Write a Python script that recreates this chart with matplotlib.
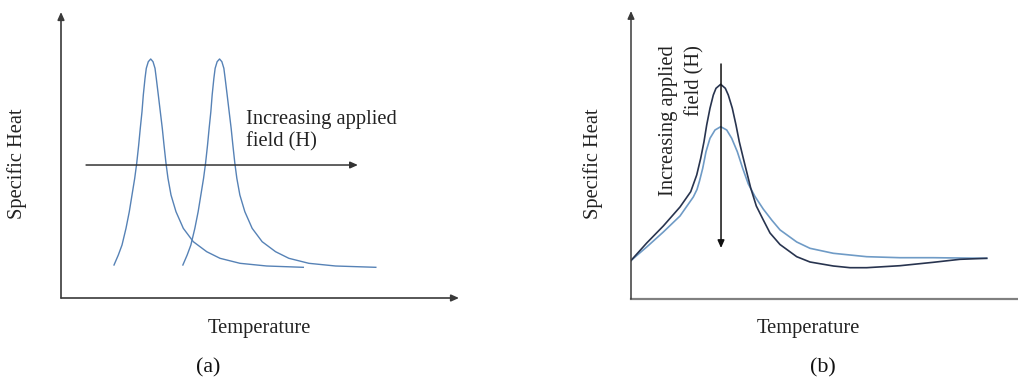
import matplotlib
matplotlib.use("Agg")
import matplotlib.pyplot as plt

plt.rcParams['font.family'] = ['Liberation Serif', 'DejaVu Serif']

# --- panel (a): two sharp peaks, shifted to higher T with field ---
temp_a1 = [13.32, 14.40, 15.33, 16.33, 17.16, 17.84, 18.52, 19.02, 19.52, 19.92,
           20.35, 20.68, 21.11, 21.43, 21.93, 22.54, 23.12, 23.62, 23.94, 24.45,
           24.95, 25.45, 25.88, 26.38, 26.88, 27.64, 28.89, 30.73, 33.24, 36.61,
           39.95, 44.97, 51.68, 60.88]
heat_a1 = [11.54, 15.03, 18.53, 24.36, 30.18, 36.01, 41.85, 47.09, 53.50, 59.34,
           65.14, 70.98, 76.82, 80.31, 82.62, 83.57, 82.62, 80.31, 76.82, 70.98,
           65.14, 59.34, 53.50, 47.09, 41.85, 36.01, 30.18, 24.36, 19.69, 16.19,
           13.88, 12.13, 11.19, 10.73]
temp_a2 = [30.62, 31.70, 32.63, 33.63, 34.46, 35.14, 35.82, 36.32, 36.82, 37.22,
           37.65, 37.98, 38.41, 38.73, 39.23, 39.84, 40.42, 40.92, 41.24, 41.75,
           42.25, 42.75, 43.18, 43.68, 44.18, 44.94, 46.19, 48.03, 50.54, 53.91,
           57.25, 62.27, 68.98, 79.10]
heat_a2 = [11.54, 15.03, 18.53, 24.36, 30.18, 36.01, 41.85, 47.09, 53.50, 59.34,
           65.14, 70.98, 76.82, 80.31, 82.62, 83.57, 82.62, 80.31, 76.82, 70.98,
           65.14, 59.34, 53.50, 47.09, 41.85, 36.01, 30.18, 24.36, 19.69, 16.19,
           13.88, 12.13, 11.19, 10.73]
field_arrow_a_x = [6.3, 74.6]
field_arrow_a_y = [46.5, 46.5]

# --- panel (b): peak suppressed with field ---
temp_b_low = [0.0, 4.06, 8.35, 12.66, 15.43, 16.98, 18.01, 18.86, 19.56, 20.41,
              21.27, 21.96, 23.18, 24.37, 25.14, 26.18, 27.13, 27.98, 29.02, 29.90,
              30.93, 32.38, 34.19, 35.92, 38.50, 42.82, 46.25, 52.27, 56.59, 60.90,
              69.50, 78.11, 85.01, 91.91]
heat_b_low = [13.37, 19.44, 25.35, 31.94, 37.26, 43.06, 48.85, 54.62, 60.42, 66.22,
              70.83, 73.16, 74.55, 73.16, 70.83, 66.22, 60.42, 54.62, 48.85, 44.10,
              38.54, 32.29, 27.43, 22.92, 18.92, 14.69, 12.85, 11.46, 10.87, 10.87,
              11.56, 12.74, 13.78, 14.13]
temp_b_high = [0.0, 4.06, 8.35, 12.66, 16.10, 17.05, 17.70, 18.53, 19.38, 20.41,
               21.71, 23.18, 24.73, 26.02, 27.47, 28.86, 30.31, 32.04, 34.19, 36.43,
               38.50, 42.82, 46.25, 52.27, 60.90, 69.50, 78.11, 91.91]
heat_b_high = [13.37, 18.06, 23.26, 28.82, 35.42, 38.02, 40.97, 45.38, 51.15, 55.80,
               58.68, 59.83, 58.68, 55.80, 51.15, 45.38, 39.93, 35.60, 31.20, 27.30,
               24.00, 19.80, 17.60, 15.87, 14.69, 14.34, 14.34, 14.13]
field_arrow_b_x = [23.26, 23.26]
field_arrow_b_y = [81.6, 17.7]

fs = 14.8
fig = plt.figure(figsize=(10.18, 3.83), dpi=100)

head = dict(arrowstyle='-|>,head_length=0.45,head_width=0.2', mutation_scale=10,
            shrinkA=0, shrinkB=0)

# panel (a)
ax1 = fig.add_axes([61 / 1018, 85 / 383, 398 / 1018, 286 / 383])
ax1.plot(temp_a1, heat_a1, color='#5682b6', lw=1.0, solid_joinstyle='round')
ax1.plot(temp_a2, heat_a2, color='#5682b6', lw=1.0, solid_joinstyle='round')
ax1.annotate('', xy=(field_arrow_a_x[1], field_arrow_a_y[1]),
             xytext=(field_arrow_a_x[0], field_arrow_a_y[0]),
             arrowprops=dict(color='#333333', lw=1.1, **head))
ax1.text(46.4, 58.6, 'Increasing applied\nfield (H)', fontsize=fs,
         ha='left', va='center', linespacing=1.2, color='#222222')
ax1.annotate('', xy=(0, 1), xytext=(0, 0), xycoords='axes fraction',
             arrowprops=dict(color='#3a3a3a', lw=1.2, **head))
ax1.annotate('', xy=(1, 0), xytext=(0, 0), xycoords='axes fraction',
             arrowprops=dict(color='#3a3a3a', lw=1.2, **head))

# panel (b)
ax2 = fig.add_axes([631 / 1018, 84 / 383, 387 / 1018, 288 / 383])
ax2.plot(temp_b_high, heat_b_high, color='#6f9bc6', lw=1.2, solid_joinstyle='round')
ax2.plot(temp_b_low, heat_b_low, color='#28344f', lw=1.2, solid_joinstyle='round')
ax2.annotate('', xy=(field_arrow_b_x[1], field_arrow_b_y[1]),
             xytext=(field_arrow_b_x[0], field_arrow_b_y[0]),
             arrowprops=dict(color='#111111', lw=1.1, **head))
ax2.text(9.6, 88.2, 'Increasing applied', fontsize=fs, rotation=90,
         ha='center', va='top', color='#222222')
ax2.text(16.6, 88.2, 'field (H)', fontsize=fs, rotation=90,
         ha='center', va='top', color='#222222')
ax2.annotate('', xy=(0, 1), xytext=(0, 0), xycoords='axes fraction',
             arrowprops=dict(color='#3a3a3a', lw=1.1, **head))
ax2.plot([0, 1], [0, 0], transform=ax2.transAxes, color='#808080', lw=1.6,
         clip_on=False)

for ax in (ax1, ax2):
    ax.set_xlim(0, 100)
    ax.set_ylim(0, 100)
    ax.axis('off')

# axis titles and panel labels
fig.text(17 / 1018, 1 - 164 / 383, 'Specific Heat', fontsize=fs, rotation=90,
         ha='center', va='center', color='#222222')
fig.text(593 / 1018, 1 - 164 / 383, 'Specific Heat', fontsize=fs, rotation=90,
         ha='center', va='center', color='#222222')
fig.text(259 / 1018, 1 - 328 / 383, 'Temperature', fontsize=fs,
         ha='center', va='center', color='#222222')
fig.text(808 / 1018, 1 - 328 / 383, 'Temperature', fontsize=fs,
         ha='center', va='center', color='#222222')
fig.text(208 / 1018, 1 - 368 / 383, '(a)', fontsize=fs + 1,
         ha='center', va='center', color='#111111')
fig.text(823 / 1018, 1 - 368 / 383, '(b)', fontsize=fs + 1,
         ha='center', va='center', color='#111111')

fig.savefig('out.png', dpi=100)
